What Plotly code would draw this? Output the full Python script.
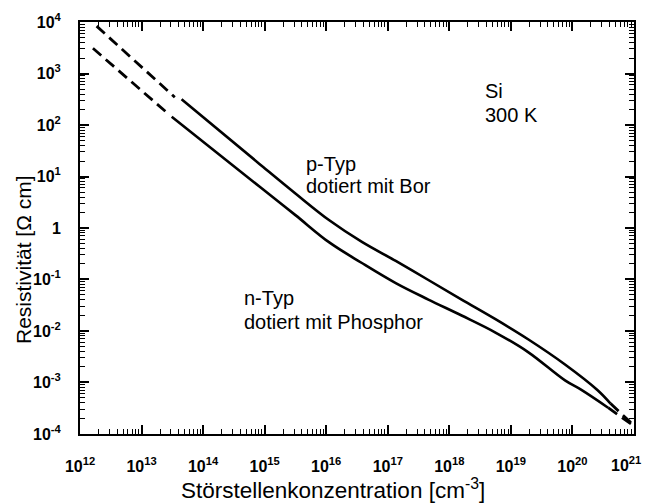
import plotly.graph_objects as go

# Values: log10 concentration [cm^-3] and log10 resistivity [Ohm cm]
p_logN = [13.65, 14.91, 15.50, 16.05, 16.58, 17.13, 17.66, 18.20, 18.75, 19.28, 19.88, 20.41, 20.62]
p_logR = [2.50, 1.25, 0.67, 0.15, -0.27, -0.64, -1.01, -1.39, -1.77, -2.16, -2.65, -3.15, -3.41]
n_logN = [13.49, 14.91, 15.50, 16.05, 16.58, 17.13, 17.66, 18.20, 18.75, 19.28, 19.88, 20.14, 20.58]
n_logR = [2.16, 0.81, 0.25, -0.28, -0.68, -1.07, -1.39, -1.70, -2.03, -2.41, -2.96, -3.14, -3.49]

# dashed (extrapolated) parts
p_low_logN = [12.27, 13.54]
p_low_logR = [3.92, 2.54]
n_low_logN = [12.21, 13.46]
n_low_logR = [3.49, 2.19]
p_high_logN = [20.62, 20.95]
p_high_logR = [-3.41, -3.78]
n_high_logN = [20.58, 20.97]
n_high_logR = [-3.49, -3.82]

x_exps = list(range(12, 22))
y_exps = list(range(-4, 5))
# the last x label (10^21) sits at the right edge; it is drawn as an annotation so it is not cut
x_ticktext = [f"10<sup>{e}</sup>" for e in x_exps[:-1]] + [""]
x_last_label = f"10<sup>{x_exps[-1]}</sup>"
y_ticktext = ["1" if e == 0 else f"10<sup>{e}</sup>" for e in y_exps]


def tv(exps):
    return [10.0 ** e for e in exps]


def minor_vals(exps):
    out = []
    for e in exps[:-1]:
        for m in range(2, 10):
            out.append(m * 10.0 ** e)
    return out


def pw(lst):
    return [10.0 ** v for v in lst]


fig = go.Figure()
solid = dict(color="black", width=2.6)
dashed = dict(color="black", width=2.8, dash="11px,6px")

fig.add_trace(go.Scatter(x=pw(p_logN), y=pw(p_logR), mode="lines",
                         line=dict(**solid, shape="spline", smoothing=1.0)))
fig.add_trace(go.Scatter(x=pw(n_logN), y=pw(n_logR), mode="lines",
                         line=dict(**solid, shape="spline", smoothing=1.0)))
for xs, ys in [(p_low_logN, p_low_logR), (n_low_logN, n_low_logR),
               (p_high_logN, p_high_logR), (n_high_logN, n_high_logR)]:
    fig.add_trace(go.Scatter(x=pw(xs), y=pw(ys), mode="lines", line=dashed))

# invisible trace carrying the minor-tick overlay axes
fig.add_trace(go.Scatter(x=[1e15], y=[1.0], xaxis="x2", yaxis="y2", mode="markers",
                         marker=dict(opacity=0), hoverinfo="skip"))

tickfont = dict(family="Liberation Sans, Arial", size=16, color="black", weight="bold")
XR = [12, 21.0008]
YR = [-4.0008, 4.0008]

common = dict(type="log", showgrid=False, zeroline=False, showline=True,
              linecolor="black", linewidth=2, mirror="allticks",
              ticks="inside", ticklen=9, tickwidth=1.5, tickcolor="black",
              tickmode="array", tickfont=tickfont)

fig.update_layout(
    xaxis=dict(**common, range=XR, tickvals=tv(x_exps), ticktext=x_ticktext,
               ticklabelstandoff=17),
    yaxis=dict(**common, range=YR, tickvals=tv(y_exps), ticktext=y_ticktext,
               ticklabelstandoff=14),
    xaxis2=dict(type="log", overlaying="x", anchor="y2", range=XR, showgrid=False,
                zeroline=False, showline=True, linecolor="black", linewidth=2,
                mirror="allticks", ticks="inside", ticklen=5, tickwidth=1.2,
                tickcolor="black", tickmode="array", tickvals=minor_vals(x_exps),
                showticklabels=False, side="bottom"),
    yaxis2=dict(type="log", overlaying="y", anchor="x2", range=YR, showgrid=False,
                zeroline=False, showline=True, linecolor="black", linewidth=2,
                mirror="allticks", ticks="inside", ticklen=5, tickwidth=1.2,
                tickcolor="black", tickmode="array", tickvals=minor_vals(y_exps),
                showticklabels=False, side="left"),
)

W, H = 647, 503
L, R, T, B = 80, 11, 13, 69
pw_ = W - L - R
ph_ = H - T - B


def px(xp):
    return (xp - L) / pw_


def py(yp):
    return (H - B - yp) / ph_


labels = [("Si", 484, 84), ("300 K", 484, 108),
          ("p-Typ", 305, 158), ("dotiert mit Bor", 305, 181),
          ("n-Typ", 243, 295), ("dotiert mit Phosphor", 243, 320)]
for text, xp, yp in labels:
    fig.add_annotation(x=px(xp), y=py(yp), xref="paper", yref="paper", text=text,
                       showarrow=False, xanchor="left", yanchor="middle",
                       font=dict(family="Liberation Sans, Arial", size=20, color="black"))

# last x tick label at the right edge
fig.add_annotation(x=px(645), y=py(465), xref="paper", yref="paper", text=x_last_label,
                   showarrow=False, xanchor="right", yanchor="middle", font=tickfont)

# axis titles
fig.add_annotation(x=px(334), y=py(490), xref="paper", yref="paper",
                   text="Störstellenkonzentration [cm<sup>-3</sup>]", showarrow=False,
                   xanchor="center", yanchor="middle",
                   font=dict(family="Liberation Sans, Arial", size=22.5, color="black"))
fig.add_annotation(x=px(24), y=py(256), xref="paper", yref="paper",
                   text="Resistivität [Ω cm]", showarrow=False, textangle=-90,
                   xanchor="center", yanchor="middle",
                   font=dict(family="Liberation Sans, Arial", size=21, color="black"))

fig.update_layout(width=W, height=H, margin=dict(l=L, r=R, t=T, b=B),
                  paper_bgcolor="white", plot_bgcolor="white", showlegend=False)

fig.write_html("out.html")
